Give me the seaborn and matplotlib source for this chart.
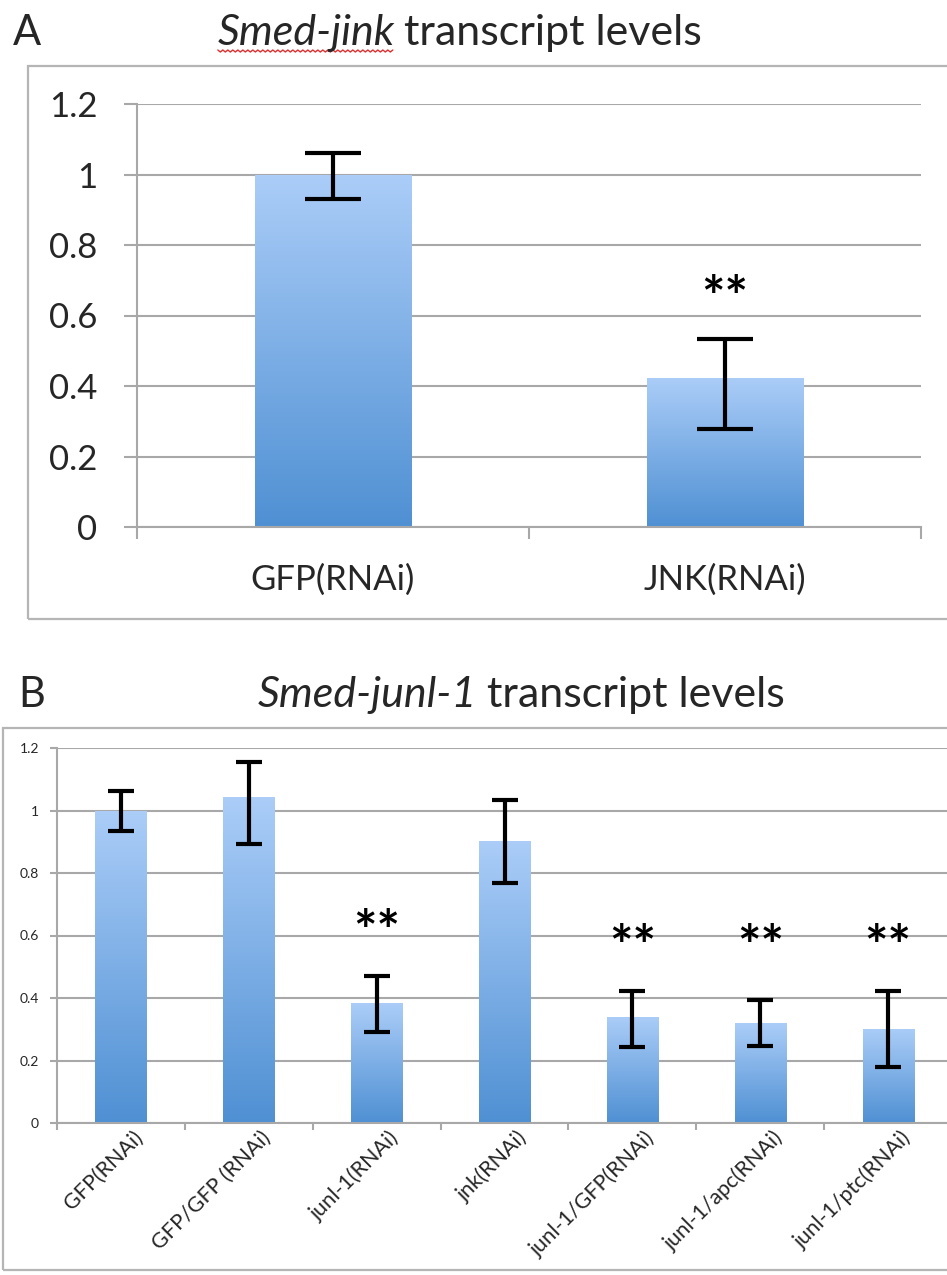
import numpy as np
import pandas as pd
import matplotlib
matplotlib.use("Agg")
import matplotlib.pyplot as plt
import matplotlib.transforms as mtrans
import seaborn as sns
from matplotlib.patches import Rectangle
from matplotlib.lines import Line2D
from matplotlib.colors import LinearSegmentedColormap
from matplotlib.ticker import FuncFormatter

# ---------------- data ----------------
a_categories = ["GFP(RNAi)", "JNK(RNAi)"]
a_values = [1.00, 0.423]
a_err_low = [0.070, 0.145]
a_err_high = [0.061, 0.110]
a_signif = ["", "**"]
a_star_y = [0.0, 0.687]

b_categories = ["GFP(RNAi)", "GFP/GFP (RNAi)", "junl-1(RNAi)", "jnk(RNAi)",
                "junl-1/GFP(RNAi)", "junl-1/apc(RNAi)", "junl-1/ptc(RNAi)"]
b_values = [1.00, 1.042, 0.383, 0.904, 0.340, 0.320, 0.302]
b_err_low = [0.065, 0.150, 0.092, 0.137, 0.098, 0.073, 0.124]
b_err_high = [0.061, 0.112, 0.087, 0.130, 0.083, 0.073, 0.121]
b_signif = ["", "", "**", "", "**", "**", "**"]
b_star_y = [0.0, 0.0, 0.656, 0.0, 0.608, 0.608, 0.608]

y_ticks = [0, 0.2, 0.4, 0.6, 0.8, 1.0, 1.2]

# ---------------- style ----------------
sns.set_theme(style="white")
plt.rcParams['font.family'] = ['Lato', 'DejaVu Sans']

W, H = 947, 1275
fig = plt.figure(figsize=(W / 100, H / 100), dpi=100)
fig.patch.set_facecolor("white")


def fx(px):
    return px / W


def fy(py):
    return 1 - py / H


GRID = "#a8a8a8"
BAR_TOP = "#abcdf8"
BAR_BOT = "#4f90d3"
cmap = LinearSegmentedColormap.from_list("bar", [BAR_BOT, BAR_TOP])
STAR_SIZE = 40


def gradient_bars(ax):
    xl, yl = ax.get_xlim(), ax.get_ylim()
    grad = np.linspace(0, 1, 256).reshape(-1, 1)
    for p in list(ax.patches):
        bb = p.get_bbox()
        im = ax.imshow(grad, extent=[bb.x0, bb.x1, bb.y0, bb.y1], origin="lower",
                       aspect="auto", cmap=cmap, zorder=2, interpolation="bilinear")
        im.set_clip_path(p)
        p.set_facecolor("none")
        p.set_edgecolor("none")
    ax.set_xlim(xl)
    ax.set_ylim(yl)


def style_axes(ax, n, ytick_len, ytick_pad, ylab_size, xtick_len):
    ax.set_ylim(0, 1.2)
    ax.set_xlim(-0.5, n - 0.5)
    ax.set_yticks(y_ticks)
    ax.yaxis.set_major_formatter(FuncFormatter(lambda v, p: f"{v:g}"))
    ax.set_axisbelow(True)
    ax.yaxis.grid(True, color=GRID, lw=1.5)
    ax.xaxis.grid(False)
    for s in ["top", "right"]:
        ax.spines[s].set_visible(False)
    for s in ["left", "bottom"]:
        ax.spines[s].set_color(GRID)
        ax.spines[s].set_linewidth(1.5)
    ax.tick_params(axis="y", which="major", length=ytick_len, width=1.5, color=GRID,
                   direction="out", pad=ytick_pad, labelsize=ylab_size, left=True)
    ax.set_xticks(np.arange(-0.5, n, 1.0), minor=True)
    ax.tick_params(axis="x", which="minor", length=xtick_len, width=1.5, color=GRID,
                   direction="out", bottom=True)
    ax.set_xlabel("")
    ax.set_ylabel("")


def stars(ax, labels, ys):
    for i, s in enumerate(labels):
        if s:
            ax.annotate(s, (i, ys[i]), xytext=(0, -0.28 * STAR_SIZE),
                        textcoords="offset points", ha="center", va="center",
                        fontsize=STAR_SIZE, fontweight="bold", color="black",
                        zorder=6)


# ---------------- panel A ----------------
axA = fig.add_axes([fx(137), fy(527), fx(921) - fx(137), fy(104) - fy(527)])
dfA = pd.DataFrame({"cat": a_categories, "val": a_values})
sns.barplot(data=dfA, x="cat", y="val", ax=axA, width=0.4, color=BAR_BOT,
            errorbar=None, zorder=2)
style_axes(axA, len(a_categories), 9.4, 19, 25, 8.6)
axA.tick_params(axis="x", which="major", length=0, pad=26, labelsize=25)
gradient_bars(axA)
axA.errorbar(np.arange(len(a_values)), a_values, yerr=[a_err_low, a_err_high],
             fmt="none", ecolor="black", elinewidth=3.0, capsize=20, capthick=3.0,
             zorder=5)
stars(axA, a_signif, a_star_y)

# ---------------- panel B ----------------
axB = fig.add_axes([fx(57), fy(1123), fx(952) - fx(57), fy(748) - fy(1123)])
dfB = pd.DataFrame({"cat": b_categories, "val": b_values})
sns.barplot(data=dfB, x="cat", y="val", ax=axB, width=0.4, color=BAR_BOT,
            errorbar=None, zorder=2)
style_axes(axB, len(b_categories), 5, 8, 10, 5)
axB.tick_params(axis="x", which="major", length=0, pad=3, labelsize=15.5)
shift = mtrans.ScaledTranslation(12 / 100, 0, fig.dpi_scale_trans)
for lab in axB.get_xticklabels():
    lab.set_rotation(45)
    lab.set_ha("right")
    lab.set_rotation_mode("anchor")
    lab.set_transform(lab.get_transform() + shift)
gradient_bars(axB)
axB.errorbar(np.arange(len(b_values)), b_values, yerr=[b_err_low, b_err_high],
             fmt="none", ecolor="black", elinewidth=3.0, capsize=9.4, capthick=3.0,
             zorder=5)
stars(axB, b_signif, b_star_y)

# ---------------- panel frames ----------------
fig.patches.append(Rectangle((fx(28), fy(619)), 1.2, fy(66) - fy(619),
                             transform=fig.transFigure, fill=False,
                             edgecolor="#b5b5b5", lw=1.6, clip_on=False))
fig.patches.append(Rectangle((fx(3), fy(1270)), 1.2, fy(728) - fy(1270),
                             transform=fig.transFigure, fill=False,
                             edgecolor="#b5b5b5", lw=1.6, clip_on=False))

# ---------------- titles ----------------
fig.text(fx(13), fy(45), "A", fontsize=30, ha="left", va="baseline")
fig.text(fx(18), fy(707), "B", fontsize=30, ha="left", va="baseline")

renderer = fig.canvas.get_renderer()


def title(italic, rest, center_px, base_px, size, squiggle=False):
    t1 = fig.text(0, fy(base_px), italic, fontsize=size, style="italic",
                  ha="left", va="baseline")
    t2 = fig.text(0, fy(base_px), rest, fontsize=size, ha="left", va="baseline")
    w1 = t1.get_window_extent(renderer).width
    w2 = t2.get_window_extent(renderer).width
    gap = size * 100 / 72 * 0.22
    total = w1 + gap + w2
    x0 = center_px - total / 2
    t1.set_x(fx(x0))
    t2.set_x(fx(x0 + w1 + gap))
    if squiggle:
        xs = np.arange(x0, x0 + w1, 2.5)
        ys = base_px + 5 + 2.0 * (np.arange(len(xs)) % 2)
        fig.add_artist(Line2D(fx(xs), fy(ys), transform=fig.transFigure,
                              color="#e03030", lw=1.0))


title("Smed-jink", "transcript levels", 460, 45, 31, squiggle=True)
title("Smed-junl-1", "transcript levels", 521, 707, 31)

fig.savefig("out.png", dpi=100, facecolor="white")
